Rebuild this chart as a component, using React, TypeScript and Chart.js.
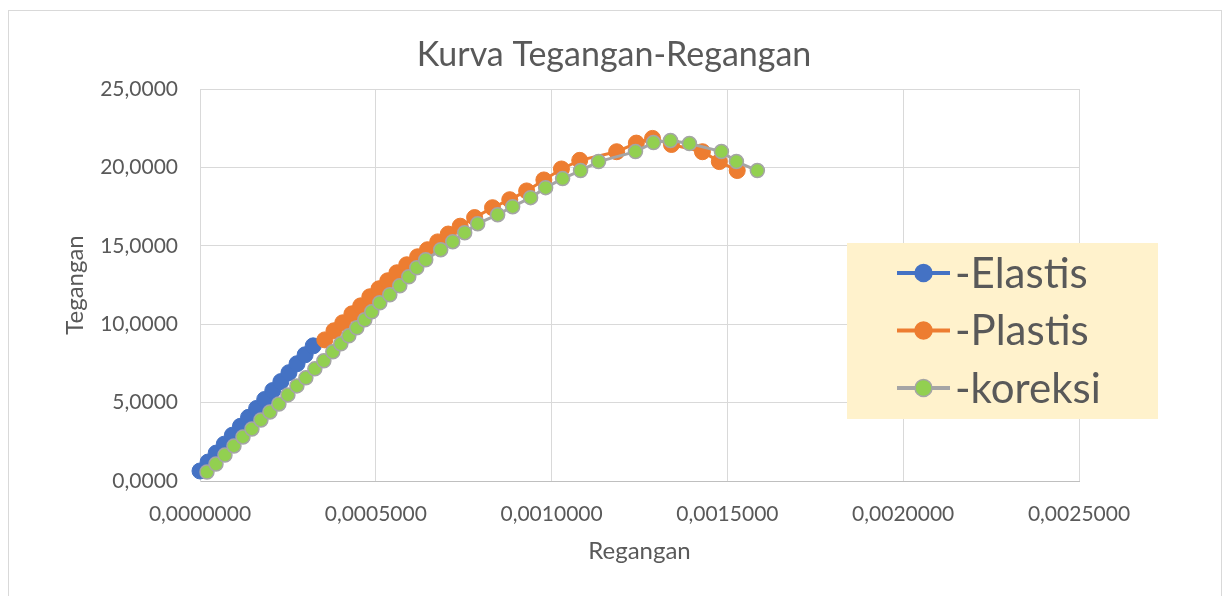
import React, { useEffect, useRef } from 'react';
import { Chart, registerables } from 'chart.js';

Chart.register(...registerables);

// ---- Data ----
const strainElastis = [
  0.0, 0.000023, 0.000046, 0.000069, 0.000092, 0.000115, 0.000138, 0.000161,
  0.000184, 0.000207, 0.00023, 0.000253, 0.000276, 0.000299, 0.000322,
];
const stressElastis = [
  0.64, 1.21, 1.78, 2.35, 2.92, 3.49, 4.06, 4.63, 5.2, 5.77, 6.34, 6.91, 7.48,
  8.05, 8.62,
];

const strainPlastis = [
  0.000355, 0.000381, 0.000406, 0.000432, 0.000457, 0.000483, 0.000509,
  0.000534, 0.00056, 0.000588, 0.000619, 0.000647, 0.000676, 0.000706,
  0.00074, 0.000781, 0.000832, 0.000881, 0.000929, 0.000978, 0.001028,
  0.00108, 0.001185, 0.001241, 0.001287, 0.001341, 0.001429, 0.001477,
  0.001528,
];
const stressPlastis = [
  9.0, 9.58, 10.09, 10.66, 11.17, 11.75, 12.26, 12.77, 13.28, 13.79, 14.3,
  14.75, 15.25, 15.75, 16.25, 16.8, 17.43, 17.94, 18.5, 19.2, 19.9, 20.45,
  21.0, 21.55, 21.85, 21.46, 21.0, 20.37, 19.8,
];

const strainKoreksi = [
  0.0000199, 0.0000455, 0.000071, 0.0000966, 0.0001222, 0.0001477, 0.0001733,
  0.0001989, 0.0002244, 0.00025, 0.0002756, 0.0003011, 0.0003267, 0.0003523,
  0.0003778, 0.0004006, 0.0004233, 0.000446, 0.0004688, 0.0004886, 0.0005114,
  0.0005398, 0.0005682, 0.0005938, 0.0006165, 0.000642, 0.0006847, 0.0007188,
  0.0007528, 0.0007898, 0.0008466, 0.0008892, 0.0009403, 0.000983, 0.0010313,
  0.0010824, 0.0011335, 0.0012386, 0.0012898, 0.0013381, 0.001392, 0.001483,
  0.0015256, 0.0015852,
];
const stressKoreksi = [
  0.575, 1.086, 1.66, 2.235, 2.81, 3.321, 3.895, 4.406, 4.917, 5.492, 6.066,
  6.577, 7.152, 7.663, 8.238, 8.748, 9.259, 9.77, 10.281, 10.792, 11.367,
  11.877, 12.452, 13.027, 13.602, 14.112, 14.751, 15.262, 15.837, 16.411,
  16.986, 17.497, 18.072, 18.71, 19.285, 19.796, 20.37, 21.009, 21.584,
  21.711, 21.52, 21.009, 20.37, 19.796,
];

const seriesNames = ['-Elastis', '-Plastis', '-koreksi'];
const xTickStep = 0.0005;
const xMax = 0.0025;
const yTickStep = 5;
const yMax = 25;

const chartTitle = 'Kurva Tegangan-Regangan';
const xTitle = 'Regangan';
const yTitle = 'Tegangan';

// ---- Styles ----
const FONT = 'Lato, "Open Sans", sans-serif';
const TEXT = '#595959';
const GRID = '#D9D9D9';
const BLUE = '#4472C4';
const ORANGE = '#ED7D31';
const GREEN = '#92D050';
const GRAY = '#A5A5A5';

const toPts = (xs: number[], ys: number[]) => xs.map((x, i) => ({ x, y: ys[i] }));
const comma = (v: number, d: number) => v.toFixed(d).replace('.', ',');

export default function App() {
  const ref = useRef<HTMLCanvasElement>(null);

  useEffect(() => {
    document.body.style.margin = '0';
    document.body.style.background = '#ffffff';
    const canvas = ref.current;
    if (!canvas) return;

    const legendItems = [
      { label: seriesNames[0], fill: BLUE, line: BLUE, border: BLUE },
      { label: seriesNames[1], fill: ORANGE, line: ORANGE, border: ORANGE },
      { label: seriesNames[2], fill: GREEN, line: GRAY, border: GRAY },
    ];

    const decor = {
      id: 'decor',
      beforeDraw(chart: any) {
        const ctx = chart.ctx;
        ctx.save();
        ctx.fillStyle = '#ffffff';
        ctx.fillRect(0, 0, chart.width, chart.height);
        ctx.strokeStyle = GRID;
        ctx.lineWidth = 1;
        ctx.strokeRect(8.5, 10.5, 1213, 620);
        ctx.fillStyle = TEXT;
        ctx.font = `34px ${FONT}`;
        ctx.textAlign = 'center';
        ctx.textBaseline = 'middle';
        ctx.fillText(chartTitle, 614, 55);
        ctx.restore();
      },
      afterDraw(chart: any) {
        const ctx = chart.ctx;
        ctx.save();
        ctx.fillStyle = '#FFF2CC';
        ctx.fillRect(847, 243, 311, 176);
        legendItems.forEach((it, i) => {
          const y = 273 + i * 57.5;
          ctx.strokeStyle = it.line;
          ctx.lineWidth = 4;
          ctx.beginPath();
          ctx.moveTo(897, y);
          ctx.lineTo(950, y);
          ctx.stroke();
          ctx.beginPath();
          ctx.arc(923.5, y, 8.5, 0, Math.PI * 2);
          ctx.fillStyle = it.fill;
          ctx.fill();
          ctx.lineWidth = 1.5;
          ctx.strokeStyle = it.border;
          ctx.stroke();
          ctx.fillStyle = TEXT;
          ctx.font = `42px ${FONT}`;
          ctx.textAlign = 'left';
          ctx.textBaseline = 'middle';
          ctx.fillText(it.label, 955, y + 1);
        });
        ctx.restore();
      },
    };

    const chart = new Chart(canvas, {
      type: 'scatter',
      data: {
        datasets: [
          {
            label: seriesNames[0],
            data: toPts(strainElastis, stressElastis),
            showLine: true,
            clip: false,
            borderColor: BLUE,
            backgroundColor: BLUE,
            borderWidth: 3,
            pointRadius: 8,
            pointBorderWidth: 1,
            pointBackgroundColor: BLUE,
            pointBorderColor: BLUE,
            order: 3,
          },
          {
            label: seriesNames[1],
            data: toPts(strainPlastis, stressPlastis),
            showLine: true,
            clip: false,
            borderColor: ORANGE,
            backgroundColor: ORANGE,
            borderWidth: 3,
            pointRadius: 8,
            pointBorderWidth: 1,
            pointBackgroundColor: ORANGE,
            pointBorderColor: ORANGE,
            order: 2,
          },
          {
            label: seriesNames[2],
            data: toPts(strainKoreksi, stressKoreksi),
            showLine: true,
            clip: false,
            borderColor: GRAY,
            backgroundColor: GREEN,
            borderWidth: 3,
            pointRadius: 7,
            pointBorderWidth: 1.5,
            pointBackgroundColor: GREEN,
            pointBorderColor: GRAY,
            order: 1,
          },
        ],
      },
      options: {
        responsive: false,
        animation: false,
        devicePixelRatio: 1,
        layout: { padding: { left: 57, top: 89, right: 145, bottom: 26 } },
        plugins: {
          legend: { display: false },
          title: { display: false },
          tooltip: { enabled: false },
        },
        scales: {
          x: {
            type: 'linear',
            min: 0,
            max: xMax,
            afterFit: (s: any) => {
              s.height = 89;
            },
            ticks: {
              stepSize: xTickStep,
              color: TEXT,
              font: { family: FONT, size: 21 },
              padding: 21,
              maxRotation: 0,
              callback: (v: any) => comma(Number(v), 7),
            },
            grid: { color: GRID, lineWidth: 1, drawTicks: false },
            border: { color: '#BFBFBF', width: 1 },
            title: {
              display: true,
              text: xTitle,
              color: TEXT,
              font: { family: FONT, size: 24 },
            },
          },
          y: {
            type: 'linear',
            min: 0,
            max: yMax,
            afterFit: (s: any) => {
              s.width = 143;
            },
            ticks: {
              stepSize: yTickStep,
              color: TEXT,
              font: { family: FONT, size: 21 },
              padding: 22,
              callback: (v: any) => comma(Number(v), 4),
            },
            grid: { color: GRID, lineWidth: 1, drawTicks: false },
            border: { color: GRID, width: 1 },
            title: {
              display: true,
              text: yTitle,
              color: TEXT,
              font: { family: FONT, size: 24 },
            },
          },
        },
      },
      plugins: [decor],
    } as any);

    return () => chart.destroy();
  }, []);

  return (
    <div style={{ width: 1224, height: 596, position: 'relative', background: '#fff' }}>
      <canvas ref={ref} width={1224} height={596} style={{ display: 'block' }} />
    </div>
  );
}
